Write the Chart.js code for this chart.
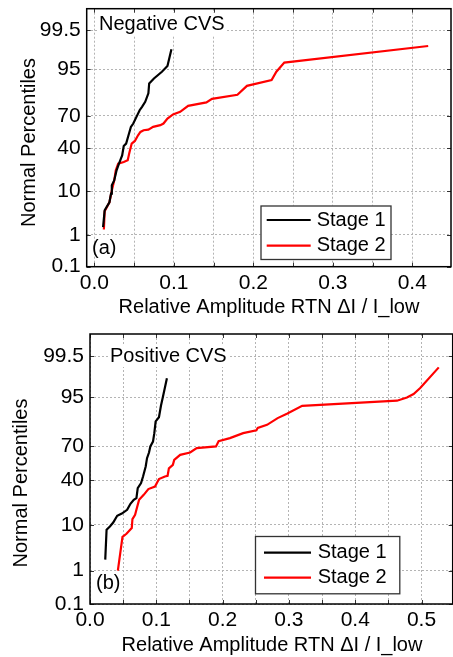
<!DOCTYPE html>
<html>
<head>
<meta charset="utf-8">
<script src="https://cdn.jsdelivr.net/npm/chart.js@4.4.1/dist/chart.umd.min.js"></script>
<style>
  html, body { margin: 0; padding: 0; background: #fff; }
  #wrap { position: relative; width: 453px; height: 657px; }
  canvas { position: absolute; left: 0; }
  #panelA { top: 0; }
  #panelB { top: 328px; }
</style>
</head>
<body>
<div id="wrap">
  <canvas id="panelA" width="453" height="328"></canvas>
  <canvas id="panelB" width="453" height="329"></canvas>
</div>
<script>
// ---- data (x = relative amplitude, p = normal percentile) ----
const seriesLabels = ['Stage 1', 'Stage 2'];
const pctTicks = [0.1, 1, 10, 40, 70, 95, 99.5];
const pctTickLabels = ['0.1', '1', '10', '40', '70', '95', '99.5'];

// (a) Negative CVS
const negStage1X = [0.011, 0.013, 0.019, 0.021, 0.022, 0.025, 0.028, 0.031, 0.035, 0.037, 0.040, 0.043, 0.046, 0.049, 0.053, 0.057, 0.060, 0.064, 0.068, 0.069, 0.075, 0.085, 0.092, 0.097];
const negStage1P = [1.6, 4.1, 6.1, 9.0, 12.7, 15.3, 21.7, 26.7, 33.6, 42.1, 44.4, 52.3, 60.2, 63.3, 69.1, 74.5, 77.0, 80.5, 85.6, 90.3, 92.2, 94.3, 95.7, 98.3];
const negStage2X = [0.012, 0.013, 0.019, 0.022, 0.025, 0.027, 0.030, 0.037, 0.042, 0.044, 0.047, 0.051, 0.055, 0.058, 0.062, 0.068, 0.074, 0.083, 0.087, 0.092, 0.099, 0.108, 0.118, 0.141, 0.148, 0.180, 0.192, 0.223, 0.229, 0.239, 0.420];
const negStage2P = [1.4, 3.9, 6.1, 10.3, 15.3, 21.7, 26.7, 28.0, 29.4, 35.7, 44.4, 46.9, 52.3, 55.5, 57.1, 57.7, 60.2, 61.8, 63.3, 67.7, 71.1, 73.2, 77.7, 80.1, 82.4, 84.8, 89.3, 91.6, 94.3, 96.4, 98.6];

// (b) Positive CVS
const posStage1X = [0.023, 0.025, 0.030, 0.035, 0.041, 0.048, 0.056, 0.061, 0.066, 0.070, 0.072, 0.077, 0.080, 0.084, 0.086, 0.089, 0.091, 0.095, 0.097, 0.099, 0.104, 0.107, 0.110, 0.116];
const posStage1P = [1.9, 8.2, 9.4, 11.0, 14.2, 15.4, 17.5, 21.3, 24.0, 25.3, 33.1, 37.3, 43.2, 52.3, 59.8, 64.7, 69.7, 73.5, 79.4, 86.2, 88.2, 92.6, 95.1, 98.1];
const posStage2X = [0.042, 0.049, 0.055, 0.063, 0.064, 0.068, 0.070, 0.074, 0.081, 0.088, 0.098, 0.104, 0.113, 0.117, 0.119, 0.125, 0.127, 0.136, 0.151, 0.161, 0.190, 0.194, 0.211, 0.231, 0.251, 0.253, 0.267, 0.283, 0.297, 0.320, 0.463, 0.478, 0.488, 0.498, 0.526];
const posStage2P = [1.0, 6.0, 6.9, 8.8, 12.6, 14.7, 17.5, 24.0, 27.7, 32.3, 34.4, 40.9, 43.2, 43.8, 50.6, 53.8, 58.3, 62.7, 64.7, 68.4, 69.7, 73.7, 76.0, 79.4, 81.2, 82.7, 84.4, 87.8, 89.7, 92.6, 94.1, 94.9, 95.7, 96.8, 99.0];

const FONT = '"Liberation Sans", Arial, sans-serif';
const FS = 20;      // titles, legend, annotations
const TICK_FS = 21; // tick labels

// inverse normal CDF (Acklam) -> probability scale
function probit(p) {
  const a = [-3.969683028665376e+01, 2.209460984245205e+02, -2.759285104469687e+02, 1.383577518672690e+02, -3.066479806614716e+01, 2.506628277459239e+00];
  const b = [-5.447609879822406e+01, 1.615858368580409e+02, -1.556989798598866e+02, 6.680131188771972e+01, -1.328068155288572e+01];
  const c = [-7.784894002430293e-03, -3.223964580411365e-01, -2.400758277161838e+00, -2.549732539343734e+00, 4.374664141464968e+00, 2.938163982698783e+00];
  const d = [7.784695709041462e-03, 3.224671290700398e-01, 2.445134137142996e+00, 3.754408661907416e+00];
  const pl = 0.02425;
  if (p < pl) {
    const q = Math.sqrt(-2 * Math.log(p));
    return (((((c[0]*q+c[1])*q+c[2])*q+c[3])*q+c[4])*q+c[5]) / ((((d[0]*q+d[1])*q+d[2])*q+d[3])*q+1);
  }
  if (p > 1 - pl) {
    const q = Math.sqrt(-2 * Math.log(1 - p));
    return -(((((c[0]*q+c[1])*q+c[2])*q+c[3])*q+c[4])*q+c[5]) / ((((d[0]*q+d[1])*q+d[2])*q+d[3])*q+1);
  }
  const q = p - 0.5, r = q * q;
  return (((((a[0]*r+a[1])*r+a[2])*r+a[3])*r+a[4])*r+a[5])*q / (((((b[0]*r+b[1])*r+b[2])*r+b[3])*r+b[4])*r+1);
}

const toPoints = (xs, ps) => xs.map((x, i) => ({ x: x, y: probit(ps[i] / 100) }));

// white box behind the panel title, drawn before the lines
const labelBgPlugin = {
  id: 'labelBg',
  beforeDatasetsDraw(chart, args, o) {
    const ctx = chart.ctx;
    ctx.save();
    ctx.font = FS + 'px ' + FONT;
    const w = ctx.measureText(o.title).width;
    ctx.fillStyle = '#fff';
    ctx.fillRect(o.titleX - 2, o.titleY - 11, w + 4, 22);
    ctx.restore();
  }
};

// frame, inner ticks, annotations, legend, axis titles
const decorPlugin = {
  id: 'decor',
  afterDraw(chart, args, o) {
    const ctx = chart.ctx;
    const { left, right, top, bottom } = chart.chartArea;
    const xs = chart.scales.x, ys = chart.scales.y;
    ctx.save();

    // inner tick marks on all four sides
    ctx.strokeStyle = '#333';
    ctx.lineWidth = 1;
    ctx.beginPath();
    xs.ticks.forEach(t => {
      const px = Math.round(xs.getPixelForValue(t.value)) + 0.5;
      ctx.moveTo(px, bottom); ctx.lineTo(px, bottom - 4);
      ctx.moveTo(px, top); ctx.lineTo(px, top + 4);
    });
    ys.ticks.forEach(t => {
      const py = Math.round(ys.getPixelForValue(t.value)) + 0.5;
      ctx.moveTo(left, py); ctx.lineTo(left + 4, py);
      ctx.moveTo(right, py); ctx.lineTo(right - 4, py);
    });
    ctx.stroke();

    // box
    ctx.strokeStyle = '#000';
    ctx.lineWidth = 1.5;
    ctx.strokeRect(left, top, right - left, bottom - top);

    ctx.fillStyle = '#000';
    ctx.font = FS + 'px ' + FONT;
    ctx.textBaseline = 'middle';
    ctx.textAlign = 'left';
    ctx.fillText(o.title, o.titleX, o.titleY);
    ctx.fillText(o.tag, o.tagX, o.tagY);

    // legend
    const lg = o.legend;
    ctx.fillStyle = '#fff';
    ctx.fillRect(lg.x, lg.y, lg.w, lg.h);
    ctx.strokeStyle = '#333';
    ctx.lineWidth = 1.3;
    ctx.strokeRect(lg.x + 0.5, lg.y + 0.5, lg.w, lg.h);
    chart.data.datasets.forEach((ds, i) => {
      const ry = lg.rows[i];
      ctx.strokeStyle = ds.borderColor;
      ctx.lineWidth = 2.2;
      ctx.beginPath();
      ctx.moveTo(lg.lineX0, ry);
      ctx.lineTo(lg.lineX1, ry);
      ctx.stroke();
      ctx.fillStyle = '#000';
      ctx.fillText(ds.label, lg.textX, ry);
    });

    // axis titles
    ctx.textAlign = 'center';
    ctx.fillText('Relative Amplitude RTN \u0394I / I_low', o.xTitle[0], o.xTitle[1]);
    ctx.translate(o.yTitle[0], o.yTitle[1]);
    ctx.rotate(-Math.PI / 2);
    ctx.fillText('Normal Percentiles', 0, 0);
    ctx.restore();
  }
};

function makePanel(id, s1x, s1p, s2x, s2p, xMin, xMax, box, deco) {
  const grid = { color: '#b4b4b4', lineWidth: 1, drawTicks: false };
  const border = { display: false, dash: [2, 2] };
  return new Chart(document.getElementById(id), {
    type: 'scatter',
    data: {
      datasets: [
        { label: seriesLabels[0], data: toPoints(s1x, s1p), borderColor: '#000000', backgroundColor: '#000000' },
        { label: seriesLabels[1], data: toPoints(s2x, s2p), borderColor: '#ff0000', backgroundColor: '#ff0000' }
      ]
    },
    options: {
      responsive: false,
      animation: false,
      showLine: true,
      elements: {
        point: { radius: 0 },
        line: { borderWidth: 2.2, tension: 0 }
      },
      layout: { padding: { top: box.top, right: box.right, left: 0, bottom: 0 } },
      plugins: {
        legend: { display: false },
        tooltip: { enabled: false },
        labelBg: deco,
        decor: deco
      },
      scales: {
        x: {
          type: 'linear',
          min: xMin,
          max: xMax,
          afterFit: s => { s.height = box.xh; s.paddingLeft = 0; s.paddingRight = 0; },
          afterBuildTicks: s => {
            const t = [];
            for (let i = 0; i * 0.05 <= xMax + 1e-9; i++) t.push({ value: +(i * 0.05).toFixed(2) });
            s.ticks = t;
          },
          grid: grid,
          border: border,
          ticks: {
            padding: 4,
            color: '#000',
            maxRotation: 0,
            autoSkip: false,
            font: { family: FONT, size: TICK_FS },
            callback: v => (Math.abs(Math.round(v * 10) - v * 10) < 1e-6 ? v.toFixed(1) : '')
          }
        },
        y: {
          type: 'linear',
          min: probit(0.001),
          max: probit(0.999),
          afterFit: s => { s.width = box.yw; s.paddingTop = 0; s.paddingBottom = 0; },
          afterBuildTicks: s => { s.ticks = pctTicks.map(p => ({ value: probit(p / 100) })); },
          grid: grid,
          border: border,
          ticks: {
            padding: 6,
            color: '#000',
            autoSkip: false,
            font: { family: FONT, size: TICK_FS },
            callback: (v, i) => pctTickLabels[i]
          }
        }
      }
    },
    plugins: [labelBgPlugin, decorPlugin]
  });
}

makePanel('panelA', negStage1X, negStage1P, negStage2X, negStage2P, -0.0096, 0.4487,
  { top: 8.7, right: 2, yw: 86.7, xh: 61.3 },
  {
    title: 'Negative CVS', titleX: 99, titleY: 24,
    tag: '(a)', tagX: 92, tagY: 248,
    legend: { x: 260.5, y: 205.5, w: 130, h: 53.5, rows: [220, 245.7], lineX0: 266.7, lineX1: 310.7, textX: 316.7 },
    xTitle: [269, 307], yTitle: [29, 142.5]
  });

makePanel('panelB', posStage1X, posStage1P, posStage2X, posStage2P, 0, 0.547,
  { top: 6, right: 0.3, yw: 90, xh: 53 },
  {
    title: 'Positive CVS', titleX: 110, titleY: 28,
    tag: '(b)', tagX: 96, tagY: 255,
    legend: { x: 255, y: 208, w: 144.3, h: 57.3, rows: [224.7, 249.7], lineX0: 264, lineX1: 311, textX: 317.7 },
    xTitle: [272, 317], yTitle: [21.7, 155]
  });
</script>
</body>
</html>
